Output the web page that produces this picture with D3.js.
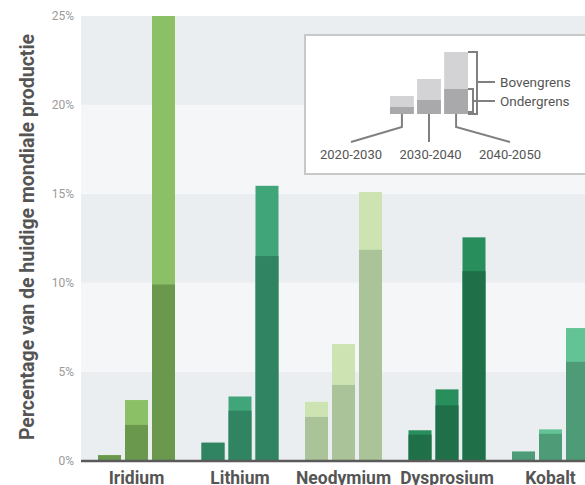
<!DOCTYPE html>
<html>
<head>
<meta charset="utf-8">
<script src="https://cdn.jsdelivr.net/npm/d3@7"></script>
<style>
  body { margin: 0; background: #fff; }
  text { font-family: Roboto, "Open Sans", sans-serif; }
</style>
</head>
<body>
<div id="chart"></div>
<script>
// data
var metals = ["Iridium", "Lithium", "Neodymium", "Dysprosium", "Kobalt"];
var periods = ["2020-2030", "2030-2040", "2040-2050"];
// ondergrens / bovengrens, % of current world production
var lower = [
  [0.3, 2.0, 9.9],
  [1.0, 2.8, 11.5],
  [2.45, 4.25, 11.85],
  [1.45, 3.1, 10.65],
  [0.5, 1.5, 5.55]
];
var upper = [
  [0.3, 3.4, 25],
  [1.0, 3.6, 15.45],
  [3.3, 6.55, 15.1],
  [1.7, 4.0, 12.55],
  [0.5, 1.75, 7.45]
];
var yTicks = [0, 5, 10, 15, 20, 25];
var darkColors = ["#6a994e", "#318462", "#abc398", "#1f7048", "#4e9b77"];
var lightColors = ["#8bc066", "#41a57a", "#cde3b2", "#288e5c", "#62c495"];
// legend sample bars (relative heights)
var legendLow = [7, 14, 25];
var legendHigh = [18, 35, 62];

var svgWidth = 585;
var svgHeight = 485;

var svg = d3.select("#chart")
  .append("svg")
  .attr("width", svgWidth)
  .attr("height", svgHeight);

// scales
var y = d3.scaleLinear().domain([0, 25]).range([460.5, 16]);
var x = d3.scaleBand().domain(metals).range([84.75, 602.25]);
var xInner = d3.scaleBand().domain(periods).range([0, 77]).paddingInner(0.148);

// background bands
svg.selectAll("rect.band")
  .data(yTicks.slice(0, -1))
  .enter()
  .append("rect")
  .attr("class", "band")
  .attr("x", 81)
  .attr("width", svgWidth - 81)
  .attr("y", d => y(d + 5))
  .attr("height", d => y(d) - y(d + 5))
  .attr("fill", (d, i) => i % 2 === 0 ? "#ebeef1" : "#f5f6f8");

// y tick labels
svg.selectAll("text.ytick")
  .data(yTicks)
  .enter()
  .append("text")
  .attr("class", "ytick")
  .attr("x", 74)
  .attr("y", d => y(d) + 4)
  .attr("text-anchor", "end")
  .attr("font-size", 12)
  .attr("fill", "#9a9a9a")
  .text(d => d + "%");

// bars
var groups = svg.selectAll("g.metal")
  .data(metals)
  .enter()
  .append("g")
  .attr("class", "metal")
  .attr("transform", d => `translate(${x(d) + (x.bandwidth() - 77) / 2},0)`);

groups.each(function(m, mi) {
  var g = d3.select(this);
  // upper (bovengrens)
  g.selectAll("rect.up")
    .data(periods)
    .enter()
    .append("rect")
    .attr("class", "up")
    .attr("x", d => xInner(d))
    .attr("width", xInner.bandwidth())
    .attr("y", (d, i) => y(upper[mi][i]))
    .attr("height", (d, i) => y(0) - y(upper[mi][i]))
    .attr("fill", lightColors[mi]);
  // lower (ondergrens)
  g.selectAll("rect.low")
    .data(periods)
    .enter()
    .append("rect")
    .attr("class", "low")
    .attr("x", d => xInner(d))
    .attr("width", xInner.bandwidth())
    .attr("y", (d, i) => y(lower[mi][i]))
    .attr("height", (d, i) => y(0) - y(lower[mi][i]))
    .attr("fill", darkColors[mi]);
});

// baseline
svg.append("line")
  .attr("x1", 81).attr("x2", svgWidth)
  .attr("y1", y(0) + 0.5).attr("y2", y(0) + 0.5)
  .attr("stroke", "#5a5a5a")
  .attr("stroke-width", 2.5);

// x labels
svg.selectAll("text.xlab")
  .data(metals)
  .enter()
  .append("text")
  .attr("class", "xlab")
  .attr("x", d => x(d) + x.bandwidth() / 2)
  .attr("y", 484)
  .attr("text-anchor", "middle")
  .attr("font-size", 17.5)
  .attr("font-weight", "bold")
  .attr("fill", "#555")
  .text(d => d);

// y title
svg.append("text")
  .attr("transform", "translate(34,237) rotate(-90)")
  .attr("text-anchor", "middle")
  .attr("font-size", 19.5)
  .attr("font-weight", "bold")
  .attr("fill", "#555")
  .text("Percentage van de huidige mondiale productie");

// legend box
var legend = svg.append("g");
legend.append("rect")
  .attr("x", 305).attr("y", 35)
  .attr("width", 300).attr("height", 139)
  .attr("fill", "#fff")
  .attr("stroke", "#c8c8c8")
  .attr("stroke-width", 2);

var lx = d3.scaleBand().domain(periods).range([390, 468]).paddingInner(0.12);
var ly = d3.scaleLinear().domain([0, 62]).range([114, 52]);

legend.selectAll("rect.lup")
  .data(legendHigh)
  .enter()
  .append("rect")
  .attr("x", (d, i) => lx(periods[i]))
  .attr("width", lx.bandwidth())
  .attr("y", d => ly(d))
  .attr("height", d => ly(0) - ly(d))
  .attr("fill", "#d3d3d5");

legend.selectAll("rect.llow")
  .data(legendLow)
  .enter()
  .append("rect")
  .attr("x", (d, i) => lx(periods[i]))
  .attr("width", lx.bandwidth())
  .attr("y", d => ly(d))
  .attr("height", d => ly(0) - ly(d))
  .attr("fill", "#a9a9ab");

var lineCol = "#808080";
// leader lines to period labels
var c0 = lx(periods[0]) + lx.bandwidth() / 2;
var c1 = lx(periods[1]) + lx.bandwidth() / 2;
var c2 = lx(periods[2]) + lx.bandwidth() / 2;
var leaders = [
  [[c0, 114], [c0, 127], [351, 142]],
  [[c1, 114], [c1, 142]],
  [[c2, 114], [c2, 127], [510, 142]]
];
legend.selectAll("path.leader")
  .data(leaders)
  .enter()
  .append("path")
  .attr("d", d3.line())
  .attr("fill", "none")
  .attr("stroke", lineCol)
  .attr("stroke-width", 2);

legend.selectAll("text.period")
  .data(periods)
  .enter()
  .append("text")
  .attr("x", (d, i) => [351, 430.5, 510][i])
  .attr("y", 159)
  .attr("text-anchor", "middle")
  .attr("font-size", 13)
  .attr("fill", "#555")
  .text(d => d);

// brackets
var right = lx(periods[2]) + lx.bandwidth();
legend.append("path")
  .attr("d", `M${right},${ly(62)} H477 V${ly(0)} H${right} M477,82 H495`)
  .attr("fill", "none").attr("stroke", lineCol).attr("stroke-width", 2);
legend.append("path")
  .attr("d", `M${right},${ly(25)} H473 V${ly(0) - 2} H${right} M473,101 H495`)
  .attr("fill", "none").attr("stroke", lineCol).attr("stroke-width", 2);

legend.append("text")
  .attr("x", 500).attr("y", 86.5)
  .attr("font-size", 13.5).attr("fill", "#555")
  .text("Bovengrens");
legend.append("text")
  .attr("x", 500).attr("y", 105.5)
  .attr("font-size", 13.5).attr("fill", "#555")
  .text("Ondergrens");
</script>
</body>
</html>
